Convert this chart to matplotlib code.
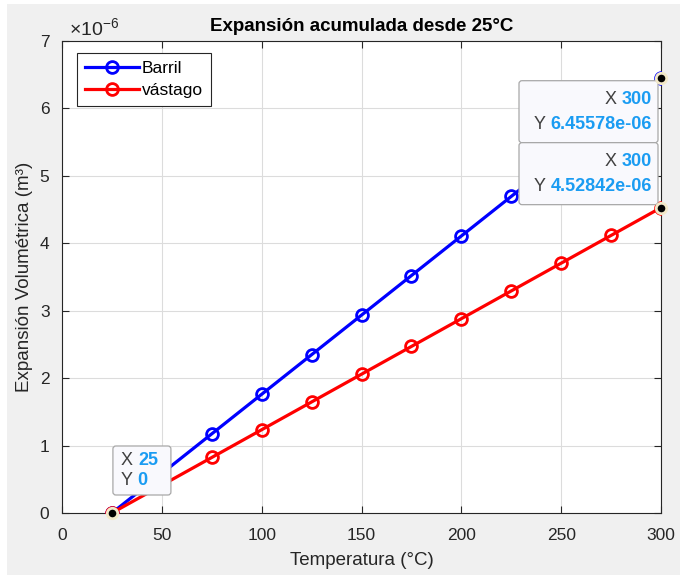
import matplotlib
matplotlib.use("Agg")
import matplotlib.pyplot as plt
from matplotlib.patches import FancyBboxPatch, Rectangle
from matplotlib.transforms import IdentityTransform
from matplotlib.ticker import FuncFormatter, MultipleLocator

plt.rcParams['font.family'] = ['Liberation Sans', 'DejaVu Sans']
plt.rcParams['mathtext.fontset'] = 'custom'
plt.rcParams['mathtext.rm'] = 'Liberation Sans'

temps = [25, 50, 75, 100, 125, 150, 175, 200, 225, 250, 275, 300]
barril = [0.0, 0.5869e-6, 1.1738e-6, 1.7607e-6, 2.3476e-6, 2.9345e-6,
          3.5214e-6, 4.1082e-6, 4.6951e-6, 5.2820e-6, 5.8689e-6, 6.45578e-6]
vastago = [0.0, 0.4117e-6, 0.8233e-6, 1.2350e-6, 1.6467e-6, 2.0584e-6,
           2.4700e-6, 2.8817e-6, 3.2934e-6, 3.7050e-6, 4.1167e-6, 4.52842e-6]
series_names = ['Barril', 'vástago']
title = 'Expansión acumulada desde 25°C'
xlabel = 'Temperatura (°C)'
ylabel = 'Expansión Volumétrica (m³)'
tips = [(300, 6.45578e-6, '300', '6.45578e-06'),
        (300, 4.52842e-6, '300', '4.52842e-06'),
        (25, 0.0, '25', '0')]

W, H = 686, 575
fig = plt.figure(figsize=(W / 100, H / 100), dpi=100, facecolor='#f0f0f0')
# white strips on top, left and right edges
for rx, ry, rw, rh in [(0, 1 - 4 / H, 1, 4 / H), (0, 0, 7 / W, 1), (1 - 6 / W, 0, 6 / W, 1)]:
    fig.patches.append(Rectangle((rx, ry), rw, rh, transform=fig.transFigure,
                                 facecolor='white', edgecolor='none'))
ax = fig.add_axes([62 / W, 62 / H, (661 - 62) / W, (513 - 41) / H])
ax.set_facecolor('white')

dark = '#262626'
ax.plot(temps, barril, '-o', color='#0000ff', lw=2.3, ms=8.5, mfc='none', mew=2,
        label=series_names[0], zorder=3)
ax.plot(temps, vastago, '-o', color='#ff0000', lw=2.3, ms=8.5, mfc='none', mew=2,
        label=series_names[1], zorder=3)

ax.set_xlim(0, 300)
ax.set_ylim(0, 7e-6)
ax.xaxis.set_major_locator(MultipleLocator(50))
ax.yaxis.set_major_locator(MultipleLocator(1e-6))
ax.yaxis.set_major_formatter(FuncFormatter(lambda v, p: f'{v / 1e-6:.0f}'))
ax.grid(True, color='#dcdcdc', linewidth=0.8)
ax.set_axisbelow(True)
ax.tick_params(direction='in', top=True, right=True, length=5, width=0.8,
               colors=dark, labelsize=12.5, labelcolor=dark)
ax.tick_params(axis='x', pad=11)
ax.tick_params(axis='y', pad=9)
for s in ax.spines.values():
    s.set_color(dark)
    s.set_linewidth(0.8)

ax.set_title(title, fontsize=13.5, fontweight='bold', color='black', pad=7)
ax.set_xlabel(xlabel, fontsize=13.5, color=dark, labelpad=6)
ax.set_ylabel(ylabel, fontsize=13.5, color=dark, labelpad=5)
ax.text(0.012, 1.004, r'$\mathregular{\times10^{-6}}$', transform=ax.transAxes,
        fontsize=14, color=dark, ha='left', va='bottom')

leg = ax.legend(loc='upper left', bbox_to_anchor=(0.025, 0.975), fontsize=12.5,
                fancybox=False, edgecolor=dark, framealpha=1, handlelength=3.1,
                borderpad=0.45, labelspacing=0.4, handletextpad=0.2,
                borderaxespad=0)
leg.get_frame().set_linewidth(0.8)

# data tips (box geometry relative to the anchor point, in pixels)
layout = [(-142, -65, 139, 62), (-142, 3, 139, 62), (1, 18, 58, 49)]
ident = IdentityTransform()
valcol = '#1a9cf2'
labcol = '#404040'
for (tx, ty, xs, ys), (dx, dy, bw, bh) in zip(tips, layout):
    px, py = ax.transData.transform((tx, ty))
    x0, y0 = px + dx, py + dy
    box = FancyBboxPatch((x0, y0), bw, bh, boxstyle='round,pad=0,rounding_size=3',
                         transform=ident, facecolor='#f9f9fd', edgecolor='#a8a8a8',
                         linewidth=0.9, zorder=10, clip_on=False)
    ax.add_patch(box)
    for i, (lab, val) in enumerate([('X ', xs), ('Y ', ys)]):
        yy = y0 + bh * (0.70 if i == 0 else 0.30)
        if tx > 100:
            t = ax.text(x0 + bw - 6, yy, val, transform=ident, ha='right', va='center',
                        color=valcol, fontsize=13, fontweight='bold', zorder=11,
                        clip_on=False)
            ax.annotate(lab, xy=(0, 0.5), xycoords=t, ha='right', va='center',
                        color=labcol, fontsize=13, zorder=11, annotation_clip=False)
        else:
            t = ax.text(x0 + 8, yy, lab, transform=ident, ha='left', va='center',
                        color=labcol, fontsize=13, zorder=11, clip_on=False)
            ax.annotate(val, xy=(1, 0.5), xycoords=t, ha='left', va='center',
                        color=valcol, fontsize=13, fontweight='bold', zorder=11,
                        annotation_clip=False)
    ax.plot([tx], [ty], 'o', ms=7.5, mfc='black', mec='#f2e8c8', mew=2,
            zorder=12, clip_on=False)

fig.savefig('out.png', dpi=100, facecolor=fig.get_facecolor())
